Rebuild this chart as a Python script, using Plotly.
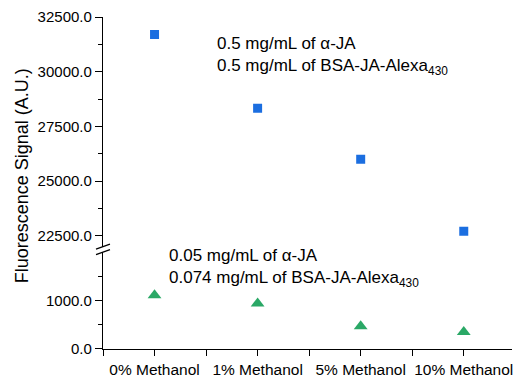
import plotly.graph_objects as go

categories = ["0% Methanol", "1% Methanol", "5% Methanol", "10% Methanol"]
high_values = [31700, 28330, 25990, 22700]   # 0.5 mg/mL series (blue squares)
low_values = [1110, 940, 470, 350]           # 0.05 mg/mL series (green triangles)
high_label = "0.5 mg/mL of α-JA<br>0.5 mg/mL of BSA-JA-Alexa<sub>430</sub>"
low_label = "0.05 mg/mL of α-JA<br>0.074 mg/mL of BSA-JA-Alexa<sub>430</sub>"
y_title = "Fluorescence Signal (A.U.)"

xpos = list(range(len(categories)))
minor_x = [i - 0.5 for i in range(len(categories) + 1)]

FONT = "Arial, Liberation Sans, sans-serif"
W, H = 513, 378
L, R, T, B = 103, 0, 17, 27
plot_h = H - T - B
low_top = 0.2916
up_bot = 0.3084

fig = go.Figure()
fig.add_trace(go.Scatter(x=xpos, y=high_values, mode="markers", xaxis="x", yaxis="y2",
                         marker=dict(symbol="square", size=9, color="#1b6ee0"),
                         showlegend=False))
fig.add_trace(go.Scatter(x=xpos, y=low_values, mode="markers", xaxis="x", yaxis="y",
                         marker=dict(symbol="triangle-up", size=12, color="#2aa866"),
                         showlegend=False))

axis_common = dict(showline=True, linecolor="black", linewidth=1.3, ticks="outside",
                   tickcolor="black", tickwidth=1.3, showgrid=False, zeroline=False,
                   tickfont=dict(family=FONT, size=15, color="black"))

fig.update_layout(
    width=W, height=H,
    margin=dict(l=L, r=R, t=T, b=B, pad=0),
    paper_bgcolor="white", plot_bgcolor="white",
    xaxis=dict(**axis_common, anchor="y", range=[-0.5, 3.468],
               tickmode="array", tickvals=xpos, ticktext=categories, ticklen=6,
               ticklabeloverflow="allow",
               minor=dict(tickvals=minor_x, ticks="outside", ticklen=6,
                          tickcolor="black", tickwidth=1.3, showgrid=False)),
    yaxis=dict(**axis_common, anchor="x", domain=[0, low_top], range=[0, 2000],
               tickmode="array", tickvals=[0, 1000], tickformat=".1f", ticklen=7,
               minor=dict(tickvals=[500, 1500], ticks="outside", ticklen=4,
                          tickcolor="black", tickwidth=1.3, showgrid=False)),
    yaxis2=dict(**axis_common, anchor="x", domain=[up_bot, 1], range=[22000, 32500],
                tickmode="linear", tick0=0, dtick=2500, tickformat=".1f", ticklen=7,
                minor=dict(tick0=0, dtick=1250, ticks="outside", ticklen=4,
                           tickcolor="black", tickwidth=1.3, showgrid=False)),
    font=dict(family=FONT, color="black"),
)
fig.update_xaxes(tickfont=dict(size=15.5))

fig.add_annotation(text=high_label, xref="paper", yref="paper",
                   x=(215 - L) / (W - L - R), y=(H - B - 56.5) / plot_h,
                   xanchor="left", yanchor="middle", align="left", showarrow=False,
                   font=dict(family=FONT, size=17, color="black"))
fig.add_annotation(text=low_label, xref="paper", yref="paper",
                   x=(167 - L) / (W - L - R), y=(H - B - 270) / plot_h,
                   xanchor="left", yanchor="middle", align="left", showarrow=False,
                   font=dict(family=FONT, size=17, color="black"))
fig.add_annotation(text=y_title, xref="paper", yref="paper",
                   x=(22 - L) / (W - L - R), y=(H - B - 177) / plot_h,
                   xanchor="center", yanchor="middle", textangle=-90, showarrow=False,
                   font=dict(family=FONT, size=18, color="black"))

# axis break marks
for yy in (low_top, up_bot):
    fig.add_shape(type="line", xref="paper", yref="paper",
                  xsizemode="pixel", ysizemode="pixel", xanchor=0, yanchor=yy,
                  x0=-7, x1=7, y0=-2.5, y1=2.5,
                  line=dict(color="black", width=1.3))

fig.write_html("out.html")
